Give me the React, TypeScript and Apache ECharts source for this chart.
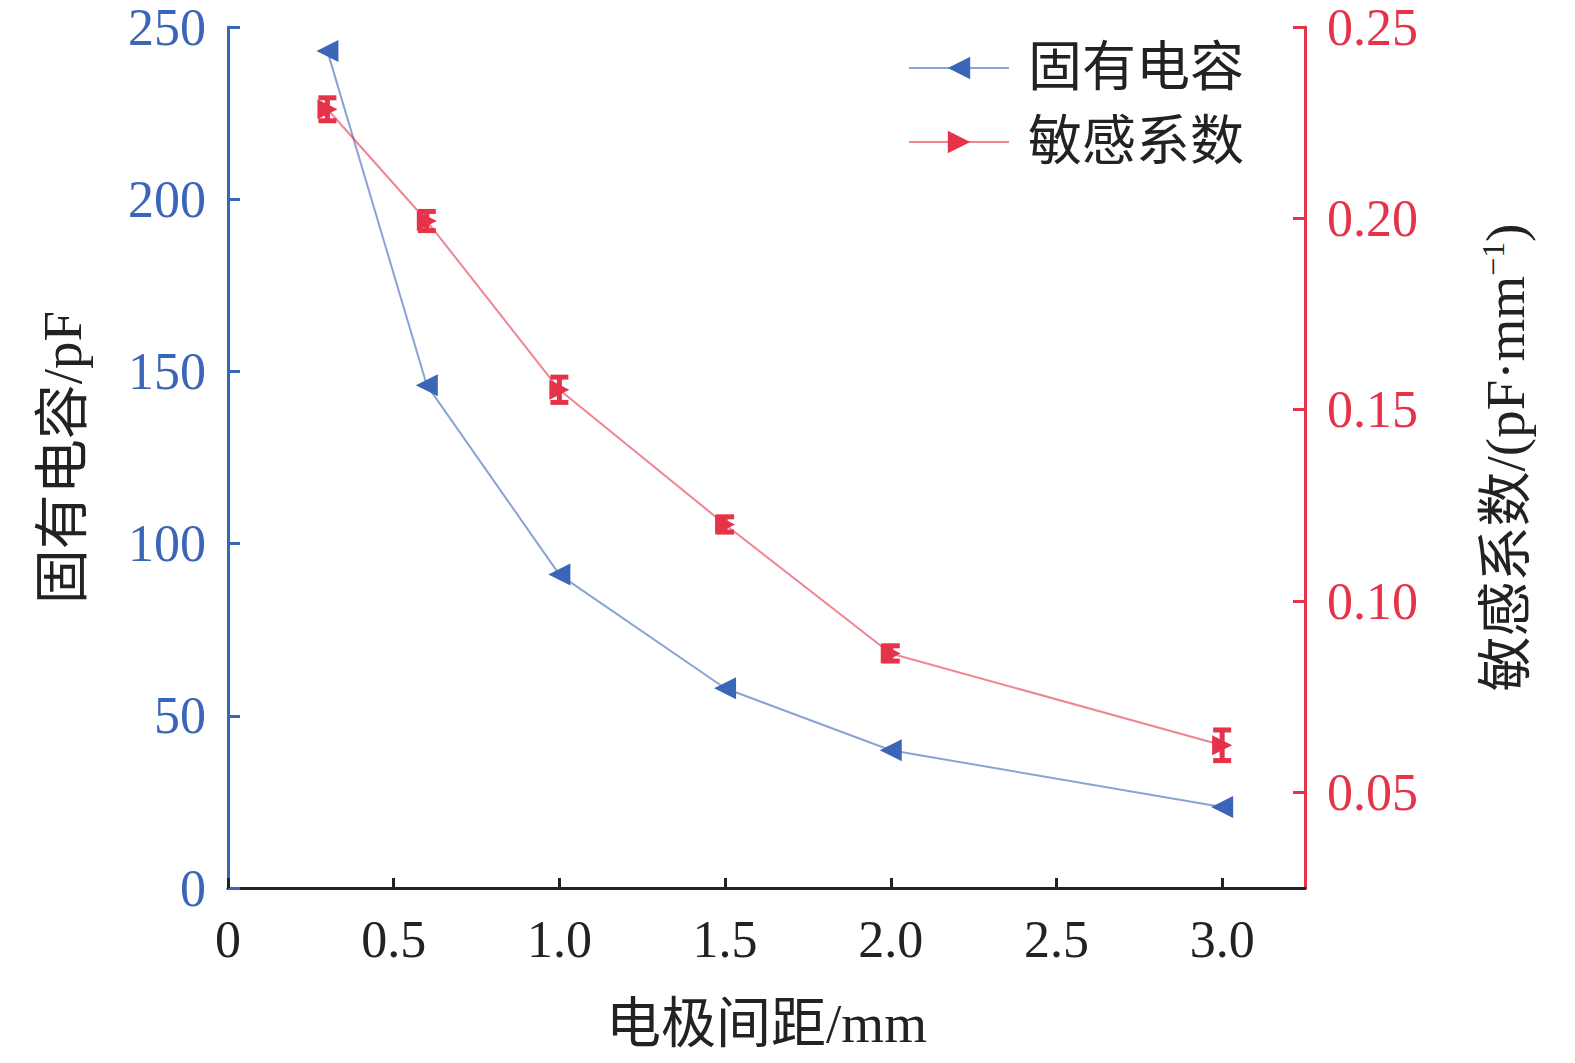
import React, { useEffect, useRef } from "react";
import * as echarts from "echarts";

const distances = [0.3, 0.6, 1.0, 1.5, 2.0, 3.0];
const capacitance = [243, 146, 91, 58, 40, 23.5];
const sensitivity = [0.2285, 0.1993, 0.1552, 0.12, 0.0863, 0.0623];
const sensitivityErr = [0.003, 0.0025, 0.0033, 0.002, 0.002, 0.004];
const xTicks = [0, 0.5, 1.0, 1.5, 2.0, 2.5, 3.0];
const rightTicks = [0.05, 0.1, 0.15, 0.2, 0.25];
const seriesNames = ["固有电容", "敏感系数"];

const BLUE = "#3b66b8";
const RED = "#e5334a";
const FONT = "'Liberation Serif', 'Noto Sans CJK SC', serif";
const LEFT_TRI = "path://M0,10 L20,0 L20,20 Z";
const RIGHT_TRI = "path://M20,10 L0,0 L0,20 Z";

export default function App() {
  const ref = useRef<HTMLDivElement>(null);
  useEffect(() => {
    const chart = echarts.init(ref.current!, null, { renderer: "svg" });
    const option: any = {
      animation: false,
      backgroundColor: "#ffffff",
      textStyle: { fontFamily: FONT },
      grid: { left: 228, right: 270, top: 27, bottom: 175 },
      legend: {
        orient: "vertical",
        left: 903,
        top: 36,
        itemWidth: 100,
        itemHeight: 28,
        itemGap: 20,
        data: seriesNames,
        textStyle: { fontFamily: FONT, fontSize: 54, color: "#222", padding: [0, 0, 0, 14] },
      },
      xAxis: {
        type: "value",
        min: 0,
        max: 3.25,
        name: "电极间距/mm",
        nameLocation: "middle",
        nameGap: 108,
        nameTextStyle: { fontFamily: FONT, fontSize: 55, color: "#222" },
        axisLine: { onZero: false, lineStyle: { color: "#222", width: 3 } },
        axisTick: { inside: true, length: 10, lineStyle: { color: "#222", width: 3 }, customValues: xTicks },
        axisLabel: {
          customValues: xTicks,
          margin: 25,
          fontFamily: FONT,
          fontSize: 52,
          color: "#222",
          formatter: (v: number) => (v === 0 ? "0" : v.toFixed(1)),
        },
        splitLine: { show: false },
      },
      yAxis: [
        {
          type: "value",
          min: 0,
          max: 250,
          interval: 50,
          position: "left",
          name: "固有电容/pF",
          nameLocation: "middle",
          nameRotate: 90,
          nameGap: 138,
          nameTextStyle: { fontFamily: FONT, fontSize: 55, color: "#222" },
          axisLine: { show: true, onZero: false, lineStyle: { color: BLUE, width: 3 } },
          axisTick: { show: true, inside: true, length: 12, lineStyle: { color: BLUE, width: 3 } },
          axisLabel: { margin: 22, fontFamily: FONT, fontSize: 52, color: BLUE },
          splitLine: { show: false },
        },
        {
          type: "value",
          min: 0.025,
          max: 0.25,
          position: "right",
          name: "敏感系数/(pF·mm{sup|−1})",
          nameLocation: "middle",
          nameRotate: 90,
          nameGap: 172,
          nameTextStyle: {
            fontFamily: FONT,
            fontSize: 55,
            color: "#222",
            rich: {
              sup: { fontFamily: FONT, fontSize: 32, color: "#222", verticalAlign: "top", padding: [0, 0, 24, 0] },
            },
          },
          axisLine: { show: true, onZero: false, lineStyle: { color: RED, width: 3 } },
          axisTick: { show: true, inside: true, length: 12, lineStyle: { color: RED, width: 3 }, customValues: rightTicks },
          axisLabel: {
            customValues: rightTicks,
            margin: 22,
            fontFamily: FONT,
            fontSize: 52,
            color: RED,
            formatter: (v: number) => v.toFixed(2),
          },
          splitLine: { show: false },
        },
      ],
      series: [
        {
          name: seriesNames[0],
          type: "line",
          yAxisIndex: 0,
          data: distances.map((d, i) => [d, capacitance[i]]),
          symbol: LEFT_TRI,
          symbolSize: 22,
          itemStyle: { color: BLUE },
          lineStyle: { color: BLUE, width: 2, opacity: 0.6 },
          z: 3,
        },
        {
          name: seriesNames[1],
          type: "line",
          yAxisIndex: 1,
          data: distances.map((d, i) => [d, sensitivity[i]]),
          symbol: RIGHT_TRI,
          symbolSize: 20,
          itemStyle: { color: RED },
          lineStyle: { color: RED, width: 2, opacity: 0.6 },
          z: 3,
        },
        {
          name: "误差",
          type: "custom",
          yAxisIndex: 1,
          data: distances.map((d, i) => [d, sensitivity[i] - sensitivityErr[i], sensitivity[i] + sensitivityErr[i]]),
          encode: { x: 0, y: [1, 2] },
          z: 4,
          renderItem: (params: any, api: any) => {
            const x = api.value(0);
            const lo = api.coord([x, api.value(1)]);
            const hi = api.coord([x, api.value(2)]);
            const half = 9;
            const style = { stroke: RED, lineWidth: 5 };
            return {
              type: "group",
              children: [
                { type: "line", shape: { x1: lo[0], y1: lo[1], x2: hi[0], y2: hi[1] }, style },
                { type: "line", shape: { x1: lo[0] - half, y1: lo[1], x2: lo[0] + half, y2: lo[1] }, style },
                { type: "line", shape: { x1: hi[0] - half, y1: hi[1], x2: hi[0] + half, y2: hi[1] }, style },
              ],
            };
          },
        },
      ],
    };
    chart.setOption(option);
    return () => chart.dispose();
  }, []);
  return (
    <div
      ref={ref}
      style={{ position: "fixed", left: 0, top: 0, width: 1575, height: 1063, background: "#fff" }}
    />
  );
}
